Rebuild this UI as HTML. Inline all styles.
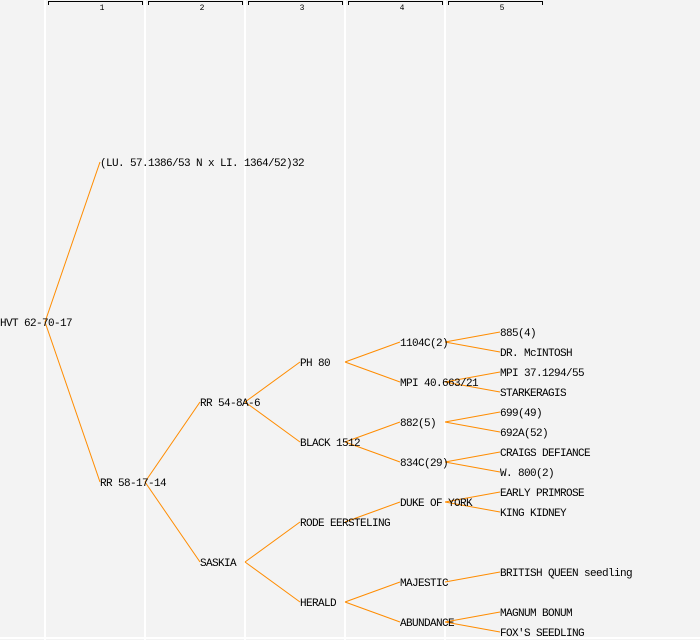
<!DOCTYPE html>
<html><head><meta charset="utf-8"><style>
html,body{margin:0;padding:0;background:#f3f3f3}
svg{display:block}
text{font-family:"Liberation Mono",monospace;font-size:11px;letter-spacing:-0.6px;fill:#000}
</style></head><body>
<svg width="700" height="640" xmlns="http://www.w3.org/2000/svg">
<rect width="700" height="640" fill="#f3f3f3"/>
<g stroke="#fff" stroke-width="2">
<line x1="45" y1="0" x2="45" y2="640"/><line x1="145" y1="0" x2="145" y2="640"/>
<line x1="245" y1="0" x2="245" y2="640"/><line x1="345" y1="0" x2="345" y2="640"/>
<line x1="445" y1="0" x2="445" y2="640"/><line x1="0" y1="638" x2="700" y2="638"/>
</g>
<g stroke="#000" stroke-width="1" fill="none">
<path d="M48.5,5V1.5H142.5V5"/><path d="M148.5,5V1.5H242.5V5"/><path d="M248.5,5V1.5H342.5V5"/>
<path d="M348.5,5V1.5H442.5V5"/><path d="M448.5,5V1.5H542.5V5"/>
</g>
<g text-anchor="middle">
<text x="102" y="10" style="font-size:8px;letter-spacing:0">1</text><text x="202" y="10" style="font-size:8px;letter-spacing:0">2</text>
<text x="302" y="10" style="font-size:8px;letter-spacing:0">3</text><text x="402" y="10" style="font-size:8px;letter-spacing:0">4</text>
<text x="502" y="10" style="font-size:8px;letter-spacing:0">5</text>
</g>
<g stroke="#ff8c00" stroke-width="1" fill="none">
<line x1="45" y1="322" x2="100" y2="162"/><line x1="45" y1="322" x2="100" y2="482"/>
<line x1="145" y1="482" x2="200" y2="402"/><line x1="145" y1="482" x2="200" y2="562"/>
<line x1="245" y1="402" x2="300" y2="362"/><line x1="245" y1="402" x2="300" y2="442"/>
<line x1="245" y1="562" x2="300" y2="522"/><line x1="245" y1="562" x2="300" y2="602"/>
<line x1="345" y1="362" x2="400" y2="342"/><line x1="345" y1="362" x2="400" y2="382"/>
<line x1="345" y1="442" x2="400" y2="422"/><line x1="345" y1="442" x2="400" y2="462"/>
<line x1="345" y1="522" x2="400" y2="502"/>
<line x1="345" y1="602" x2="400" y2="582"/><line x1="345" y1="602" x2="400" y2="622"/>
<line x1="445" y1="342" x2="500" y2="332"/><line x1="445" y1="342" x2="500" y2="352"/>
<line x1="445" y1="382" x2="500" y2="372"/><line x1="445" y1="382" x2="500" y2="392"/>
<line x1="445" y1="422" x2="500" y2="412"/><line x1="445" y1="422" x2="500" y2="432"/>
<line x1="445" y1="462" x2="500" y2="452"/><line x1="445" y1="462" x2="500" y2="472"/>
<line x1="445" y1="502" x2="500" y2="492"/><line x1="445" y1="502" x2="500" y2="512"/>
<line x1="445" y1="582" x2="500" y2="572"/>
<line x1="445" y1="622" x2="500" y2="612"/><line x1="445" y1="622" x2="500" y2="632"/>
</g>
<g>
<text x="0" y="326">HVT 62-70-17</text>
<text x="100" y="166">(LU. 57.1386/53 N x LI. 1364/52)32</text>
<text x="100" y="486">RR 58-17-14</text>
<text x="200" y="406">RR 54-8A-6</text>
<text x="200" y="566">SASKIA</text>
<text x="300" y="366">PH 80</text>
<text x="300" y="446">BLACK 1512</text>
<text x="300" y="526">RODE EERSTELING</text>
<text x="300" y="606">HERALD</text>
<text x="400" y="346">1104C(2)</text>
<text x="400" y="386">MPI 40.663/21</text>
<text x="400" y="426">882(5)</text>
<text x="400" y="466">834C(29)</text>
<text x="400" y="506">DUKE OF YORK</text>
<text x="400" y="586">MAJESTIC</text>
<text x="400" y="626">ABUNDANCE</text>
<text x="500" y="336">885(4)</text>
<text x="500" y="356">DR. McINTOSH</text>
<text x="500" y="376">MPI 37.1294/55</text>
<text x="500" y="396">STARKERAGIS</text>
<text x="500" y="416">699(49)</text>
<text x="500" y="436">692A(52)</text>
<text x="500" y="456">CRAIGS DEFIANCE</text>
<text x="500" y="476">W. 800(2)</text>
<text x="500" y="496">EARLY PRIMROSE</text>
<text x="500" y="516">KING KIDNEY</text>
<text x="500" y="576">BRITISH QUEEN seedling</text>
<text x="500" y="616">MAGNUM BONUM</text>
<text x="500" y="636">FOX'S SEEDLING</text>
</g>
</svg>
</body></html>
